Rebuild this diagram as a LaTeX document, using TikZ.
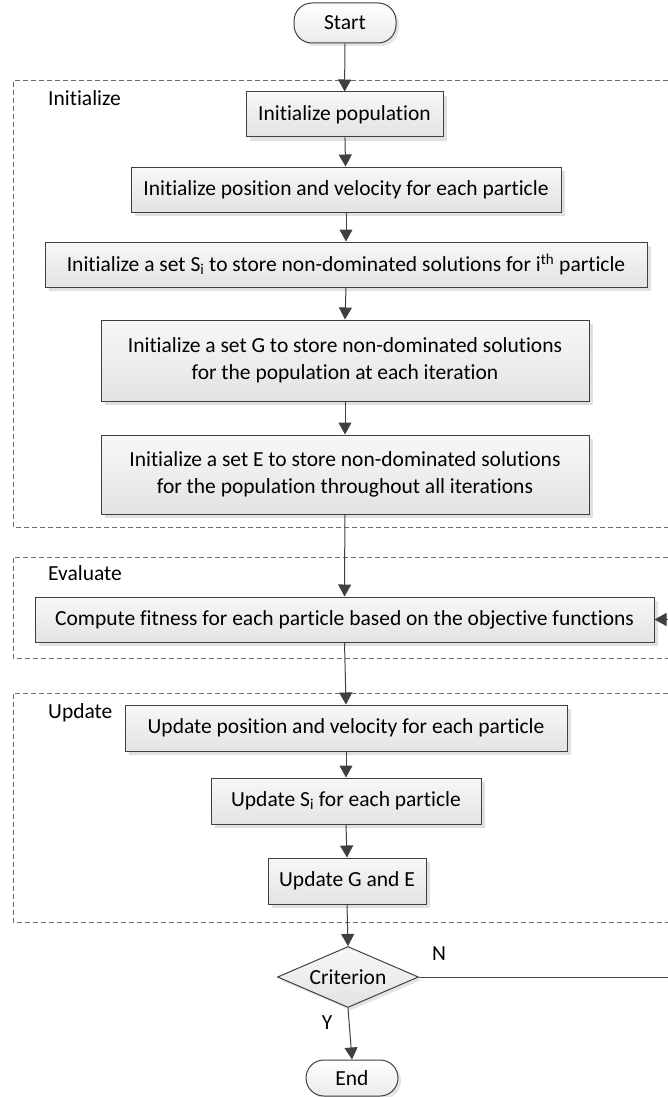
\documentclass[tikz,border=0pt]{standalone}
\usepackage{fontspec}
\setmainfont{Carlito}[Ligatures={NoCommon}]
\usetikzlibrary{arrows.meta,shapes.geometric,shadows}
\definecolor{edge}{HTML}{404040}
\definecolor{dashc}{HTML}{6A6A6A}
\tikzset{
  procbox/.style={draw=edge, line width=1pt, rectangle, inner sep=0pt,
    top color=white!97!black, bottom color=white!89!black,
    drop shadow={shadow xshift=4pt, shadow yshift=-4pt, fill=black!12, opacity=1},
    font=\fontsize{21.5}{27}\selectfont, align=center},
  termbox/.style={draw=edge, line width=1pt, rectangle, rounded corners=18pt, inner sep=0pt,
    top color=white, bottom color=white!92!black,
    drop shadow={shadow xshift=3pt, shadow yshift=-3pt, fill=black!10, opacity=1},
    font=\fontsize{21.5}{27}\selectfont},
  decbox/.style={draw=edge, line width=1pt, diamond, inner sep=0pt, aspect=2.3,
    top color=white!97!black, bottom color=white!89!black,
    drop shadow={shadow xshift=3pt, shadow yshift=-3pt, fill=black!10, opacity=1},
    font=\fontsize{21.5}{27}\selectfont},
  flow/.style={draw=edge, line width=1pt, -{Triangle[width=13pt,length=12pt]}},
  plainline/.style={draw=edge, line width=1pt},
  group/.style={draw=dashc, line width=1pt, dash pattern=on 5pt off 3pt},
  grouplabel/.style={anchor=west, inner sep=0pt, font=\fontsize{21.5}{27}\selectfont},
  lbl/.style={inner sep=0pt, font=\fontsize{21.5}{27}\selectfont}
}
\begin{document}
\begin{tikzpicture}[x=1pt, y=-1pt]
\useasboundingbox (0,0) rectangle (668,1097);
\clip (0,0) rectangle (668,1097);
% groups
\draw[group] (700,81) -- (13,81) -- (13,527) -- (700,527);
\draw[group] (700,557) -- (13,557) -- (13,658) -- (700,658);
\draw[group] (700,693) -- (13,693) -- (13,922) -- (700,922);
\node[grouplabel] (lini) at (48,98) {Initialize};
\node[grouplabel] (leva) at (48,573) {Evaluate};
\node[grouplabel] (lupd) at (48,713) {Update};
% nodes
\node[termbox, minimum width=102pt, minimum height=40pt] (start) at (345,23) {Start};
\node[procbox, minimum width=197pt, minimum height=45pt] (ip) at (344.5,114.5) {Initialize population};
\node[procbox, minimum width=430pt, minimum height=45pt] (ipv) at (346,189.5) {Initialize position and velocity for each particle};
\node[procbox, minimum width=602pt, minimum height=45pt] (isi) at (346,264.5) {Initialize a set S\textsubscript{i} to store non-dominated solutions for i\textsuperscript{th} particle};
\node[procbox, minimum width=488pt, minimum height=81pt] (ig) at (345,360.5) {Initialize a set G to store non-dominated solutions\\for the population at each iteration};
\node[procbox, minimum width=488pt, minimum height=79pt] (ie) at (345,474.5) {Initialize a set E to store non-dominated solutions\\for the population throughout all iterations};
\node[procbox, minimum width=619pt, minimum height=45pt] (cf) at (344.5,619.5) {Compute fitness for each particle based on the objective functions};
\node[procbox, minimum width=442pt, minimum height=46pt] (up) at (346,728) {Update position and velocity for each particle};
\node[procbox, minimum width=270pt, minimum height=46pt] (us) at (346,801) {Update S\textsubscript{i} for each particle};
\node[procbox, minimum width=158pt, minimum height=46pt] (uge) at (347,881) {Update G and E};
\node[decbox, minimum width=141pt, minimum height=61pt] (crit) at (348,977) {Criterion};
\node[termbox, minimum width=92pt, minimum height=36pt] (end) at (352,1078) {End};
\node[lbl] (nlab) at (439,954) {N};
\node[lbl] (ylab) at (327,1023) {Y};
\coordinate (loopa) at (700,977);
\coordinate (loopb) at (700,619.5);
% connectors
\draw[flow] (start) -- (ip);
\draw[flow] (ip) -- (ipv);
\draw[flow] (ipv.south) -- (isi.north);
\draw[flow] (isi.south) -- (ig.north);
\draw[flow] (ig) -- (ie);
\draw[flow] (ie) -- (cf);
\draw[flow] (cf.south) -- (up.north);
\draw[flow] (up) -- (us);
\draw[flow] (us.south) -- (uge.north);
\draw[flow] (uge.south) -- (crit.north);
\draw[flow] (crit.south) -- (end.north);
\draw[plainline] (crit.east) -- (loopa) -- (loopb);
\draw[flow] (loopb) -- (cf.east);
\end{tikzpicture}
\end{document}
